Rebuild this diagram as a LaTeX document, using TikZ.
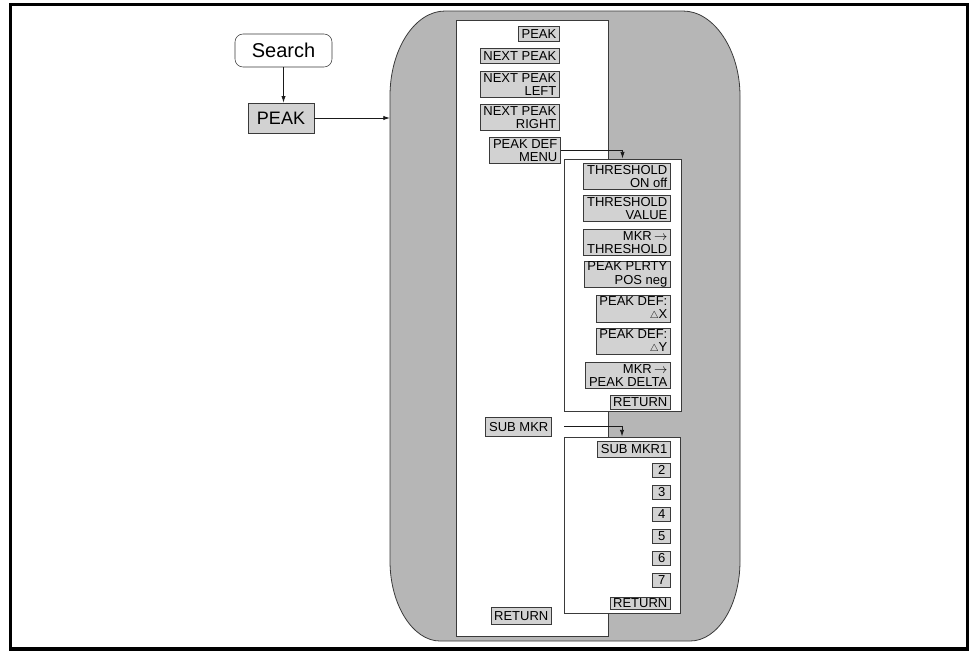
\documentclass[tikz,border=0pt]{standalone}
\usepackage{fontspec}
\setmainfont{Liberation Sans}
\usetikzlibrary{arrows.meta,positioning,fit}
\definecolor{ink}{HTML}{1A1A1A}
\definecolor{panel}{HTML}{B6B6B6}
\definecolor{keyfill}{HTML}{D2D2D2}
\definecolor{rim}{HTML}{3A3A3A}
\newcommand{\tri}{\scalebox{0.75}{$\triangle$}}
\newcommand{\mkrto}{\,$\rightarrow$}
\tikzset{softkey/.style={draw=rim,fill=keyfill,align=right,font=\fontsize{9.75}{9.9}\selectfont,inner xsep=2.5pt,inner ysep=0pt,minimum height=11.25pt,anchor=north east,line width=0.5pt},softkey2/.style={softkey,minimum height=19.5pt},menubox/.style={draw=rim,fill=white,inner sep=0pt,line width=0.6pt},arr/.style={-{Latex[length=5pt,width=3.2pt]},line width=0.6pt,draw=ink}}

\begin{document}
\begin{tikzpicture}[x=0.75pt,y=-0.75pt]
\useasboundingbox (0,0) rectangle (974,651);
\draw[line width=2.3pt] (10.5,4.5) rectangle (967.5,649);
% menu tree background
\filldraw[fill=panel,draw=rim,line width=0.6pt] (390,96) .. controls (390,49) and (415,11) .. (445,11) -- (683,11) .. controls (714,11) and (740,50) .. (740,96) -- (740,561) .. controls (740,605) and (718,641) .. (690,641) -- (440,641) .. controls (413,641) and (390,605) .. (390,561) -- cycle;
\node[menubox,fit={(456,20) (608,636)}] (column) {};
\node[menubox,fit={(564,159) (681,411)}] (defmenu) {};
\node[menubox,fit={(564,437) (680,613)}] (submenu) {};
% front panel keys
\node[draw=rim,rounded corners=6pt,minimum width=72.75pt,minimum height=24.75pt,font=\fontsize{15}{15}\selectfont] (search) at (283.5,50.5) {Search};
\node[draw=rim,fill=keyfill,minimum width=49.5pt,minimum height=22.5pt,inner sep=0pt,font=\fontsize{13.5}{13.5}\selectfont] (peakkey) at (281,118) {PEAK};
\coordinate (panelin) at (390,118);
% first level
\node[softkey] (peak) at (560,26) {PEAK};
\node[softkey] (next) at (560,48) {NEXT PEAK};
\node[softkey2] (nextleft) at (560,71) {NEXT PEAK\\LEFT};
\node[softkey2] (nextright) at (560,104) {NEXT PEAK\\RIGHT};
\node[softkey2] (peakdef) at (561,137) {PEAK DEF\\MENU};
\node[softkey,minimum height=14pt] (submkr) at (552,417) {SUB MKR};
\node[softkey,minimum height=12.5pt] (ret) at (552,607) {RETURN};
% peak definition menu
\node[softkey2] (thron) at (671,163) {THRESHOLD\\ON off};
\node[softkey2] (thrval) at (671,195) {THRESHOLD\\VALUE};
\node[softkey2] (mkrthr) at (671,229) {MKR\mkrto\\THRESHOLD};
\node[softkey2] (plrty) at (671,261) {PEAK PLRTY\\POS neg};
\node[softkey2,minimum height=20pt] (defx) at (671,295) {PEAK DEF:\\\tri X};
\node[softkey2] (defy) at (671,328) {PEAK DEF:\\\tri Y};
\node[softkey2] (mkrdelta) at (671,362) {MKR\mkrto\\PEAK DELTA};
\node[softkey,minimum height=10.5pt] (defret) at (671,395) {RETURN};
% sub marker menu
\node[softkey,minimum height=12pt] (mkr1) at (671,441) {SUB MKR1};
\foreach \n [count=\i] in {2,...,7}
  \node[softkey,minimum height=10.5pt,minimum width=13.5pt] (mkr\n) at (671,{463+22*(\i-1)}) {\n};
\node[softkey,minimum height=9pt] (subret) at (671,597) {RETURN};
% connectors
\draw[arr] (search.south) -- (search.south |- peakkey.north);
\draw[arr] (peakkey) -- (panelin);
\draw[arr] (peakdef.east) -| (defmenu.north);
\draw[arr] ([xshift=9pt]submkr.east) -| (submenu.north);
\end{tikzpicture}
\end{document}
